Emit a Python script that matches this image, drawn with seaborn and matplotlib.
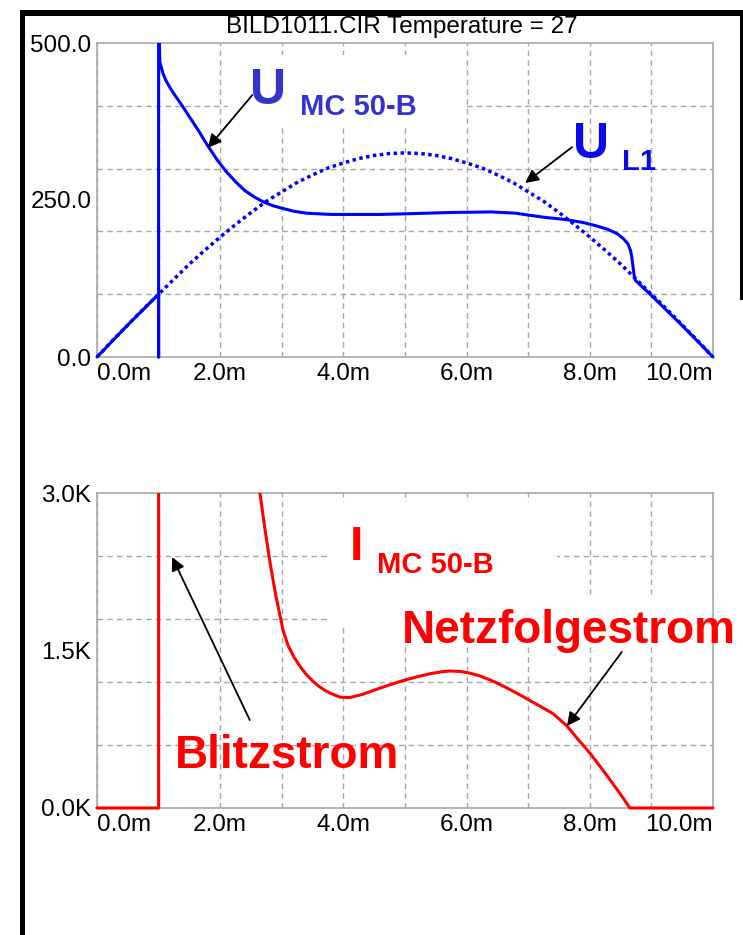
import numpy as np
import pandas as pd
import matplotlib
matplotlib.use("Agg")
import matplotlib.pyplot as plt
import seaborn as sns
from matplotlib.patches import Rectangle

# Plot style
sns.set_style("white")
plt.rcParams['font.family'] = ['Liberation Sans', 'DejaVu Sans']
plt.rcParams['text.color'] = 'black'

# ---- data (time in ms) ----
t_ul1 = [0.0, 0.25, 0.5, 0.75, 1.0, 1.25, 1.5, 1.75, 2.0, 2.25, 2.5, 2.75,
         3.0, 3.25, 3.5, 3.75, 4.0, 4.25, 4.5, 4.75, 5.0, 5.25, 5.5, 5.75,
         6.0, 6.25, 6.5, 6.75, 7.0, 7.25, 7.5, 7.75, 8.0, 8.25, 8.5, 8.75,
         9.0, 9.25, 9.5, 9.75, 10.0]
u_l1 = [0, 26, 51, 76, 100, 124, 148, 170, 191, 211, 230, 248,
        263, 278, 290, 301, 309, 316, 321, 324, 325, 324, 321, 316,
        309, 301, 290, 278, 263, 248, 230, 211, 191, 170, 148, 124,
        100, 76, 51, 26, 0]

t_umc = [0.0, 0.5, 1.0, 1.0, 1.0, 1.02, 1.07, 1.12, 1.19, 1.27, 1.35, 1.45,
         1.55, 1.65, 1.8, 1.95, 2.1, 2.25, 2.4, 2.55, 2.7, 2.85, 3.0, 3.2,
         3.4, 3.6, 3.8, 4.2, 4.6, 5.0, 5.7, 6.4, 6.8, 7.0, 7.3, 7.6, 7.9,
         8.1, 8.3, 8.45, 8.55, 8.62, 8.66, 8.68, 8.7, 8.72, 8.74, 9.0, 9.5,
         10.0]
u_mc = [0, 51, 100, 0, 560, 470, 452, 440, 428, 416, 405, 390,
        375, 360, 336, 314, 295, 279, 265, 255, 247, 241, 237, 232,
        229, 228, 227, 227, 227, 228, 230, 231, 229, 226, 222, 219, 214,
        209, 203, 196, 188, 180, 170, 160, 145, 130, 122, 98, 50,
        0]

t_imc = [0.0, 1.0, 1.0, 2.5, 2.65, 2.72, 2.81, 2.9, 3.02, 3.1, 3.2, 3.3,
         3.4, 3.5, 3.6, 3.7, 3.8, 3.95, 4.1, 4.3, 4.6, 4.8, 5.0, 5.2, 5.4,
         5.6, 5.73, 5.9, 6.05, 6.22, 6.4, 6.6, 6.87, 7.1, 7.4, 7.63, 7.79,
         8.0, 8.15, 8.33, 8.5, 8.65, 10.0]
i_mc = [0, 0, 6000, 3500, 2981, 2680, 2333, 2030, 1695, 1550, 1435, 1345,
        1270, 1210, 1160, 1120, 1090, 1055, 1052, 1080, 1143, 1182, 1219, 1250,
        1278, 1298, 1305, 1300, 1285, 1257, 1215, 1160, 1076, 1000, 900, 781,
        667, 524, 410, 267, 130, 0, 0]

x_ticks = [0, 2, 4, 6, 8, 10]
x_labels = ['0.0m', '2.0m', '4.0m', '6.0m', '8.0m', '10.0m']
u_ticks = [0, 250, 500]
u_labels = ['0.0', '250.0', '500.0']
i_ticks = [0, 1500, 3000]
i_labels = ['0.0K', '1.5K', '3.0K']

df_ul1 = pd.DataFrame({'t': t_ul1, 'u': u_l1})
df_umc = pd.DataFrame({'t': t_umc, 'u': u_mc})
df_imc = pd.DataFrame({'t': t_imc, 'i': i_mc})

W, H = 743, 935
fig = plt.figure(figsize=(W / 100, H / 100), dpi=100)
fig.patch.set_facecolor('white')

ax1 = fig.add_axes([97 / W, 1 - 357 / H, 616 / W, 314 / H])
ax2 = fig.add_axes([97 / W, 1 - 808 / H, 616 / W, 315 / H])

grid_col = '#a8a8a8'


def style_axes(ax, yticks, ylabels, ymax, yminor):
    ax.set_xlim(0, 10)
    ax.set_ylim(0, ymax)
    ax.set_xticks(x_ticks)
    ax.set_xticklabels(x_labels)
    ax.set_xticks([1, 3, 5, 7, 9], minor=True)
    ax.set_yticks(yticks)
    ax.set_yticklabels(ylabels)
    ax.set_yticks(yminor, minor=True)
    ax.tick_params(which='both', length=0, labelsize=17.5, colors='black')
    ax.tick_params(axis='y', pad=4)
    ax.tick_params(axis='x', pad=4)
    ax.grid(False)
    ax.grid(True, axis='x', which='both', color=grid_col, linestyle=(0, (4, 3)), lw=1)
    ax.grid(True, axis='y', which='minor', color=grid_col, linestyle=(0, (4, 3)), lw=1)
    ax.set_axisbelow(True)
    for s in ax.spines.values():
        s.set_color(grid_col)
        s.set_linewidth(1.2)
    labs = ax.get_xticklabels()
    labs[0].set_horizontalalignment('left')
    labs[-1].set_horizontalalignment('right')
    ax.set_xlabel('')
    ax.set_ylabel('')


def loose_clip(ax):
    # let the curves sit on the spines instead of being cut in half
    clip = Rectangle((-0.01, -0.01), 1.02, 1.01, transform=ax.transAxes,
                     facecolor='none', edgecolor='none')
    for ln in ax.lines:
        ln.set_clip_path(clip)
        ln.set_zorder(3)


# ---- top: voltages ----
sns.lineplot(data=df_ul1, x='t', y='u', ax=ax1, sort=False, estimator=None,
             color='#0000ff', lw=2.5, linestyle=(0, (1, 1.0)))
sns.lineplot(data=df_umc, x='t', y='u', ax=ax1, sort=False, estimator=None,
             color='#0000ff', lw=2.2)
style_axes(ax1, u_ticks, u_labels, 500, [100, 200, 300, 400])
loose_clip(ax1)

ax1.add_patch(Rectangle((2.13, 369), 3.86, 112, facecolor='white',
                        edgecolor='none', zorder=1))

ax1.text(2.48, 403, 'U', color='#3434cc', fontsize=36, fontweight='bold')
ax1.text(3.30, 385, 'MC 50-B', color='#3434cc', fontsize=21, fontweight='bold')
ax1.text(7.73, 317, 'U', color='#0a0aee', fontsize=36, fontweight='bold')
ax1.text(8.52, 298, 'L1', color='#0a0aee', fontsize=21, fontweight='bold')

arrow = dict(arrowstyle='-|>', color='black', lw=1.3, mutation_scale=20,
             shrinkA=0, shrinkB=0)
ax1.annotate('', xy=(1.80, 333), xytext=(2.52, 417), arrowprops=arrow)
ax1.annotate('', xy=(6.95, 277), xytext=(7.71, 334), arrowprops=arrow)

fig.text(402 / W, 1 - 27 / H, 'BILD1011.CIR Temperature = 27', fontsize=17.5,
         ha='center', va='center', color='black')

# ---- bottom: current ----
sns.lineplot(data=df_imc, x='t', y='i', ax=ax2, sort=False, estimator=None,
             color='#ff0000', lw=2.2)
style_axes(ax2, i_ticks, i_labels, 3000, [600, 1200, 1800, 2400])
loose_clip(ax2)

ax2.add_patch(Rectangle((3.78, 1743), 3.69, 1171, facecolor='white',
                        edgecolor='none', zorder=1))
ax2.add_patch(Rectangle((4.84, 1552), 5.16, 448, facecolor='white',
                        edgecolor='none', zorder=1))

ax2.text(4.11, 2362, 'I', color='#ff0000', fontsize=35, fontweight='bold')
ax2.text(4.55, 2238, 'MC 50-B', color='#ff0000', fontsize=21, fontweight='bold')
ax2.text(4.95, 1571, 'Netzfolgestrom', color='#ff0000', fontsize=33,
         fontweight='bold')
ax2.text(1.27, 381, 'Blitzstrom', color='#ff0000', fontsize=33,
         fontweight='bold')

ax2.annotate('', xy=(1.22, 2390), xytext=(2.48, 838), arrowprops=arrow)
ax2.annotate('', xy=(7.63, 781), xytext=(8.52, 1486), arrowprops=arrow)

# ---- black window frame ----
fig.add_artist(Rectangle((20 / W, 0), 5 / W, 1 - 10 / H, transform=fig.transFigure,
                         facecolor='black', edgecolor='none'))
fig.add_artist(Rectangle((20 / W, 1 - 16 / H), 1 - 20 / W, 6 / H,
                         transform=fig.transFigure, facecolor='black',
                         edgecolor='none'))
fig.add_artist(Rectangle((740 / W, 1 - 300 / H), 3 / W, 290 / H,
                         transform=fig.transFigure, facecolor='black',
                         edgecolor='none'))

fig.savefig('out.png', dpi=100)
